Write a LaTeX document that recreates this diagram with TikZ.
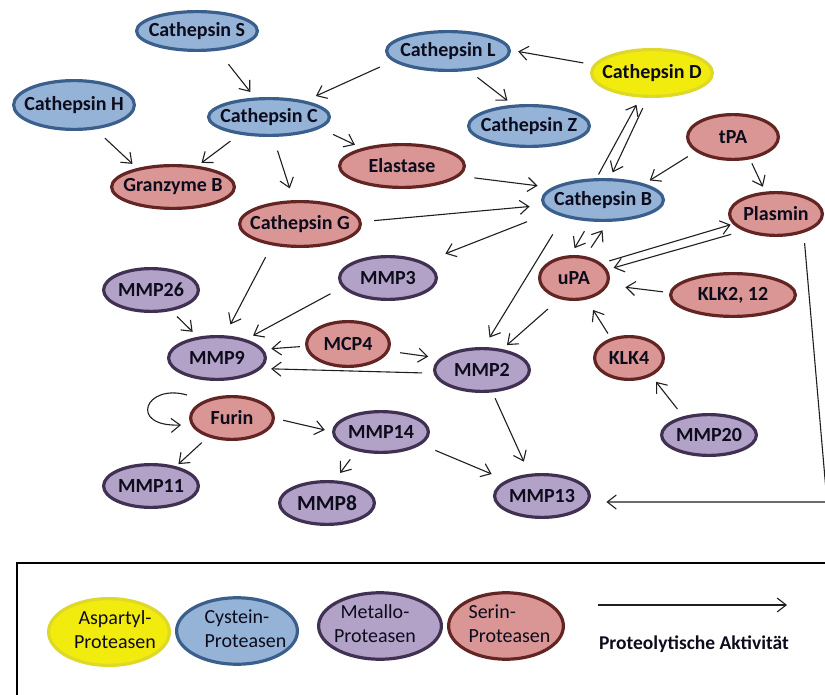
\documentclass[tikz,border=0pt]{standalone}
\usepackage{fontspec}
\setmainfont{Carlito}
\usetikzlibrary{shapes.geometric,arrows.meta,calc}
\definecolor{cysF}{RGB}{149,179,215}
\definecolor{cysD}{RGB}{58,95,140}
\definecolor{serF}{RGB}{217,150,148}
\definecolor{serD}{RGB}{99,37,35}
\definecolor{metF}{RGB}{179,162,199}
\definecolor{metD}{RGB}{64,49,82}
\definecolor{aspF}{RGB}{242,236,14}
\definecolor{aspD}{RGB}{222,216,40}
\definecolor{txt}{RGB}{12,12,28}
\newcommand\zw[1]{\makebox[0pt]{#1}}
\begin{document}
\begin{tikzpicture}[x=1pt,y=-1pt,
 prot/.style={ellipse, inner sep=0pt, outer sep=0pt, line width=3.2pt, text=txt, font=\fontsize{20}{24}\selectfont\bfseries},
 cys/.style={prot, fill=cysF, draw=cysD},
 ser/.style={prot, fill=serF, draw=serD},
 met/.style={prot, fill=metF, draw=metD},
 asp/.style={prot, fill=aspF, draw=aspD},
 sz/.style 2 args={minimum width={2*#1pt-3.2pt}, minimum height={2*#2pt-3.2pt}},
 ar/.style={draw=black!88, line width=1.1pt, -{Straight Barb[length=9pt,width=14pt]}},
 sh/.style 2 args={shorten <=#1pt, shorten >=#2pt},
 legtext/.style={font=\fontsize{20}{23.5}\selectfont},
]
\useasboundingbox (0,0) rectangle (825,695);
% nodes
\node[cys, sz={62}{21}] (catS) at (197,31) {\zw{Cathepsin S}};
\node[cys, sz={62}{26}] (catH) at (74,105) {\zw{Cathepsin H}};
\node[cys, sz={62}{20}] (catC) at (269,117) {\zw{Cathepsin C}};
\node[ser, sz={63}{23}] (granB) at (173,187) {\zw{Granzyme B}};
\node[ser, sz={64}{23}] (elast) at (402,166) {\zw{Elastase}};
\node[ser, sz={62}{24}] (catG) at (300,224) {\zw{Cathepsin G}};
\node[cys, sz={63}{21}] (catL) at (448,51) {\zw{Cathepsin L}};
\node[asp, sz={62}{25}] (catD) at (652,73) {\zw{Cathepsin D}};
\node[cys, sz={62}{22}] (catZ) at (529,126) {\zw{Cathepsin Z}};
\node[ser, sz={47}{24}] (tPA) at (733,137) {\zw{tPA}};
\node[cys, sz={62}{22}] (catB) at (603,200) {\zw{Cathepsin B}};
\node[ser, sz={48}{23}] (plasmin) at (776,214) {\zw{Plasmin}};
\node[met, sz={49}{23}] (mmp26) at (151,290) {\zw{MMP26}};
\node[met, sz={50}{23}] (mmp3) at (388,278) {\zw{MMP3}};
\node[met, sz={50}{23}] (mmp9) at (217,358) {\zw{MMP9}};
\node[ser, sz={43}{24}] (mcp4) at (348,344) {\zw{MCP4}};
\node[ser, sz={43}{23}] (furin) at (232,418) {\zw{Furin}};
\node[met, sz={49}{22}] (mmp14) at (381,432) {\zw{MMP14}};
\node[met, sz={49}{23}] (mmp11) at (151,486) {\zw{MMP11}};
\node[met, sz={49}{23}, font=\fontsize{21.5}{26}\selectfont\bfseries] (mmp8) at (327,503) {\zw{MMP8}};
\node[ser, sz={36}{23}] (uPA) at (574,278) {\zw{uPA}};
\node[ser, sz={64}{23}] (klk) at (733,295) {\zw{KLK2, 12}};
\node[met, sz={49}{23}] (mmp2) at (482,370) {\zw{MMP2}};
\node[ser, sz={36}{23}] (klk4) at (629,358) {\zw{KLK4}};
\node[met, sz={49}{22}] (mmp20) at (709,435) {\zw{MMP20}};
\node[met, sz={49}{23}] (mmp13) at (542,496) {\zw{MMP13}};
% edges
\draw[ar, sh={19}{9}] (catS.-43) -- (catC.126);
\draw[ar, sh={16}{14}] (catL.190) -- (catC.24);
\draw[ar, sh={12}{9}] (catD.172) -- (catL.1);
\draw[ar, sh={13}{9}] (catL.-44) -- (catZ.126);
\draw[ar, sh={15}{8}] (catH.-49) -- (granB.153);
\draw[ar, sh={13}{7}] (catC.210) -- (granB.41);
\draw[ar, sh={16}{14}] (catC.-79) -- (catG.105);
\draw[ar, sh={16}{10}] (catC.-12) -- (elast.156);
\draw[ar, sh={17}{17}] (elast.-10) -- (catB.166);
\draw[ar, sh={14}{15}] (catG.2) -- (catB.185);
\draw[ar, sh={6}{10}] (catB.110) -- (catD.245);
\draw[ar, sh={13}{8}] (catD.261) -- (catB.73);
\draw[ar, sh={11}{8}] (tPA.201) -- (catB.21);
\draw[ar, sh={6}{7}] (tPA.-52) -- (plasmin.116);
\draw[ar, sh={28}{25}] (catB.193) -- (mmp3.24);
\draw[ar, sh={22}{13}] (catB.202) -- (mmp2.88);
\draw[ar, sh={13}{10}] (catB.239) -- (uPA.102);
\draw[ar, sh={12}{12}] (uPA.63) -- (catB.-73);
\draw[ar, sh={10}{4}] (uPA.29) -- (plasmin.193);
\draw[ar, sh={15}{8}] (plasmin.208) -- (uPA.14);
\draw[ar, sh={8}{19}] (klk.178) -- (uPA.-12);
\draw[ar, sh={17}{8}] (uPA.236) -- (mmp2.46);
\draw[ar, sh={7}{14}] (klk4.133) -- (uPA.-60);
\draw[ar, sh={11}{9}] (mmp20.145) -- (klk4.-38);
\draw[ar, sh={8}{15}] (mmp2.-65) -- (mmp13.120);
\draw[ar, sh={17}{18}] (mmp14.-17) -- (mmp13.156);
\coordinate (corner) at (827,502);
\draw[ar, sh={12}{17}] (plasmin.-32) -- (corner) -- (mmp13.east |- corner);
\draw[ar, sh={15}{14}] (catG.216) -- (mmp9.72);
\draw[ar, sh={15}{10}] (mmp3.191) -- (mmp9.33);
\draw[ar, sh={10}{9}] (mmp26.-46) -- (mmp9.132);
\draw[ar, sh={7}{10}] (mcp4.183) -- (mmp9.11);
\draw[ar, sh={13}{14}] (mcp4.-10) -- (mmp2.164);
\draw[ar, sh={13}{12}] (mmp2.184) -- (mmp9.-14);
\draw[ar, sh={10}{9}] (furin.0) -- (mmp14.180);
\draw[ar, sh={10}{5}] (furin.218) -- (mmp11.38);
\draw[ar, sh={12}{11}] (mmp14.217) -- (mmp8.73);
\draw[ar] ($(furin)+(-45,-23)$) .. controls ($(furin)+(-87,-35)$) and ($(furin)+(-104,9)$) .. ($(furin)+(-51,7)$);
% legend
\draw[line width=2.5pt] (17,563) rectangle (850,720);
\node[asp, sz={62}{35}, legtext] (lasp) at (109,632) {\zw{\hspace*{12pt}\begin{tabular}{@{}c@{}}Aspartyl-\\Proteasen\end{tabular}}};
\node[cys, sz={62}{34}, legtext] (lcys) at (237,631) {\zw{\hspace*{17pt}\begin{tabular}{@{}l@{}}Cystein-\\Proteasen\end{tabular}}};
\node[met, sz={63}{34}, legtext] (lmet) at (380,626) {\zw{\begin{tabular}{@{}c@{}}Metallo-\\Proteasen\end{tabular}\hspace*{10pt}}};
\node[ser, sz={59}{34}, legtext] (lser) at (506,626) {\zw{\hspace*{7pt}\begin{tabular}{@{}l@{}}Serin-\\Proteasen\end{tabular}}};
\coordinate (la) at (598,605);
\coordinate (lb) at (787,605);
\draw[ar] (la) -- (lb);
\node[text=txt, font=\fontsize{19.5}{23}\selectfont\bfseries] (ltxt) at (694,644) {Proteolytische Aktivität};
\end{tikzpicture}
\end{document}
